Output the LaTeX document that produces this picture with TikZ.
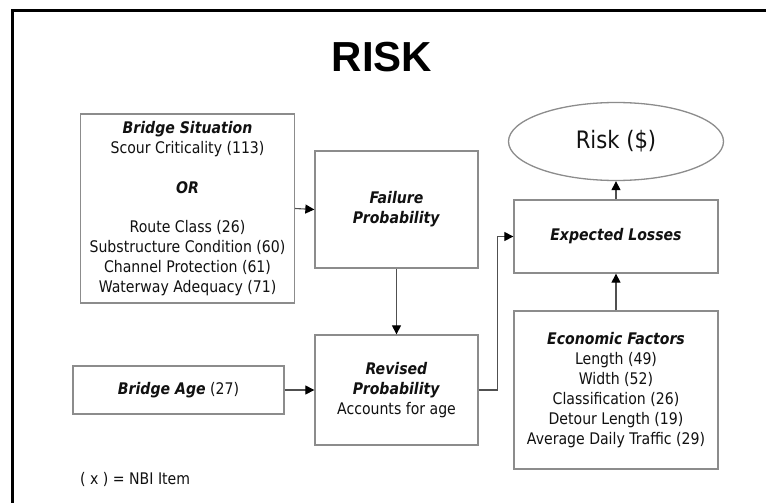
\documentclass[tikz,border=0pt]{standalone}
\usepackage{fontspec}
\setmainfont{DejaVu Sans}[FakeStretch=0.88]
\newfontfamily\titlefont{Liberation Sans}
\usetikzlibrary{arrows.meta,shapes.geometric}
\definecolor{boxgray}{HTML}{8C8C8C}
\definecolor{linegray}{HTML}{505050}
\definecolor{txt}{HTML}{111111}
\tikzset{
  box/.style={draw=boxgray, line width=1.3pt, inner sep=0pt, align=center, text=txt,
    font=\fontsize{16}{20}\selectfont},
  conn/.style={draw=linegray, line width=1.1pt, -{Triangle[length=9pt,width=9pt,fill=black,color=black]}},
}
\newcommand{\bi}[1]{\textbf{\textit{#1}}}
\begin{document}
\begin{tikzpicture}[x=1pt,y=-1pt]
\useasboundingbox (0,0) rectangle (766,503);
\fill[white] (0,0) rectangle (766,503);
% frame
\draw[line width=3pt, line join=miter] (12,520) -- (12,11) -- (780,11);
% title
\node[text=black, font=\titlefont\bfseries\fontsize{42}{46}\selectfont, anchor=base] (title) at (382,72) {RISK};
% boxes
\node[box, minimum width=214pt, minimum height=189pt] (bs) at (187.5,208.5) {%
  \bi{Bridge Situation}\\ Scour Criticality (113)\\[20pt] \bi{OR}\\[19pt]
  Route Class (26)\\ Substructure Condition (60)\\ Channel Protection (61)\\ Waterway Adequacy (71)};
\node[box, minimum width=163pt, minimum height=117pt] (fp) at (396.5,209.5) {\bi{Failure}\\ \bi{Probability}};
\node[box, minimum width=163pt, minimum height=110pt] (rp) at (396.5,390) {\bi{Revised}\\ \bi{Probability}\\ Accounts for age};
\node[box, minimum width=211pt, minimum height=48pt] (ba) at (178.5,390) {\bi{Bridge Age} (27)};
\node[box, minimum width=204pt, minimum height=73pt] (el) at (616,236.5) {\bi{Expected Losses}};
\node[box, minimum width=204pt, minimum height=158pt] (ef) at (616,390) {%
  \bi{Economic Factors}\\ Length (49)\\ Width (52)\\ Classification (26)\\ Detour Length (19)\\ Average Daily Traffic (29)};
\node[ellipse, draw=boxgray, line width=1.3pt, inner sep=0pt, minimum width=215pt, minimum height=78pt,
  text=txt, font=\fontsize{24}{28}\selectfont] (risk) at (616,141.5) {Risk (\$)};
% legend
\node[anchor=west, text=txt, font=\fontsize{16}{20}\selectfont, inner sep=0pt] (nbi) at (80,479) {( x ) = NBI Item};
% connectors
\draw[conn] (bs.east) -- (fp.west);
\draw[conn] (fp.south) -- (rp.north);
\draw[conn] (ba.east) -- (rp.west);
\draw[conn] (rp.east) -- ++(19,0) |- (el.west);
\draw[conn] (ef.north) -- (el.south);
\draw[conn] (el.north) -- (risk.south);
\end{tikzpicture}
\end{document}
